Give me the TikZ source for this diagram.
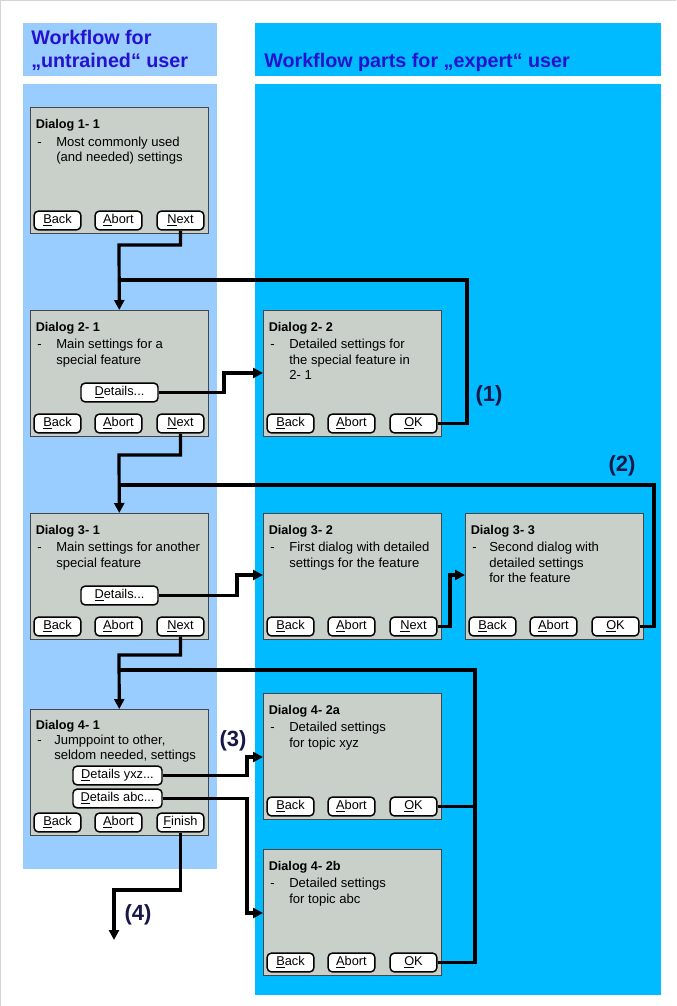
\documentclass[tikz,border=0pt]{standalone}
\usepackage{fontspec}
\setmainfont{Liberation Sans}
\usetikzlibrary{arrows.meta}

\definecolor{panelL}{RGB}{153,204,255}
\definecolor{panelR}{RGB}{0,187,255}
\definecolor{dlgfill}{RGB}{201,207,201}
\definecolor{dlgline}{RGB}{70,70,70}
\definecolor{headblue}{RGB}{38,18,206}
\definecolor{navy}{RGB}{24,24,72}
\definecolor{edgegrey}{RGB}{212,212,212}

\tikzset{
  dialog/.style={draw=dlgline, fill=dlgfill, line width=0.9pt, anchor=north west,
    minimum width=133.5pt, minimum height=94.5pt, inner sep=0pt},
  btn/.style={draw=black, fill=white, rounded corners=3pt, line width=1.1pt,
    minimum width=35pt, minimum height=14pt, inner sep=0pt,
    font=\fontsize{9.6}{11}\selectfont},
  dlgtitle/.style={anchor=base west, inner sep=0pt, font=\bfseries\fontsize{9.5}{11}\selectfont},
  dlgbody/.style={anchor=base west, inner sep=0pt, font=\fontsize{9.8}{11}\selectfont},
  headtext/.style={anchor=base west, inner sep=0pt, text=headblue,
    font=\bfseries\fontsize{14.8}{17}\selectfont},
  numlabel/.style={inner sep=0pt, text=navy, font=\bfseries\fontsize{16.5}{18}\selectfont},
  flow/.style={draw=black, line width=2.4pt},
  arr/.style={flow, -{Triangle[length=7.5pt,width=7.5pt]}},
}

\begin{document}
\begin{tikzpicture}[x=0.75pt,y=-0.75pt]
\useasboundingbox (0,0) rectangle (676,1006);

% page edge
\draw[edgegrey, line width=1pt] (0.7,1006) -- (0.7,0.7) -- (676,0.7);

% column panels
\fill[panelL] (23,23) rectangle (217,76);
\fill[panelR] (255,23) rectangle (661,76);
\fill[panelL] (23,84) rectangle (217,869);
\fill[panelR] (255,84) rectangle (661,995);

% column headings
\node[headtext] (hl1) at (31,45) {Workflow for};
\node[headtext] (hl2) at (31,67.5) {„untrained“ user};
\node[headtext] (hr1) at (264,67.5) {Workflow parts for „expert“ user};

% ---------- Dialog 1-1
\node[dialog] (d11) at (30,107) {};
\node[dlgtitle] (t11) at (35.5,128) {Dialog 1- 1};
\node[dlgbody] (s11) at (37,146) {-};
\node[dlgbody] (a11) at (56,146) {Most commonly used};
\node[dlgbody] (b11) at (56,161.5) {(and needed) settings};
\node[btn] (bk11) at (57.5,220.5) {\underline{B}ack};
\node[btn] (ab11) at (118.5,220.5) {\underline{A}bort};
\node[btn] (nx11) at (180.5,220.5) {\underline{N}ext};

% ---------- Dialog 2-1
\node[dialog] (d21) at (30,310) {};
\node[dlgtitle] (t21) at (35.5,331) {Dialog 2- 1};
\node[dlgbody] (s21) at (37,348.5) {-};
\node[dlgbody] (a21) at (56,348.5) {Main settings for a};
\node[dlgbody] (b21) at (56,364) {special feature};
\node[btn, minimum width=57.75pt] (det21) at (119.5,392.5) {\underline{D}etails...};
\node[btn] (bk21) at (57.5,423.5) {\underline{B}ack};
\node[btn] (ab21) at (118.5,423.5) {\underline{A}bort};
\node[btn] (nx21) at (180.5,423.5) {\underline{N}ext};

% ---------- Dialog 2-2
\node[dialog] (d22) at (263,310) {};
\node[dlgtitle] (t22) at (268.5,331) {Dialog 2- 2};
\node[dlgbody] (s22) at (270,348.5) {-};
\node[dlgbody] (a22) at (289,348.5) {Detailed settings for};
\node[dlgbody] (b22) at (289,364) {the special feature in};
\node[dlgbody] (c22) at (289,379.5) {2- 1};
\node[btn] (bk22) at (290.5,423.5) {\underline{B}ack};
\node[btn] (ab22) at (351.5,423.5) {\underline{A}bort};
\node[btn] (ok22) at (413.5,423.5) {\underline{O}K};

% ---------- Dialog 3-1
\node[dialog] (d31) at (30,513) {};
\node[dlgtitle] (t31) at (35.5,534) {Dialog 3- 1};
\node[dlgbody] (s31) at (37,551.5) {-};
\node[dlgbody] (a31) at (56,551.5) {Main settings for another};
\node[dlgbody] (b31) at (56,567) {special feature};
\node[btn, minimum width=57.75pt] (det31) at (119.5,595.5) {\underline{D}etails...};
\node[btn] (bk31) at (57.5,626.5) {\underline{B}ack};
\node[btn] (ab31) at (118.5,626.5) {\underline{A}bort};
\node[btn] (nx31) at (180.5,626.5) {\underline{N}ext};

% ---------- Dialog 3-2
\node[dialog] (d32) at (263,513) {};
\node[dlgtitle] (t32) at (268.5,534) {Dialog 3- 2};
\node[dlgbody] (s32) at (270,551.5) {-};
\node[dlgbody] (a32) at (289,551.5) {First dialog with detailed};
\node[dlgbody] (b32) at (289,567) {settings for the feature};
\node[btn] (bk32) at (290.5,626.5) {\underline{B}ack};
\node[btn] (ab32) at (351.5,626.5) {\underline{A}bort};
\node[btn] (nx32) at (413.5,626.5) {\underline{N}ext};

% ---------- Dialog 3-3
\node[dialog] (d33) at (465,513) {};
\node[dlgtitle] (t33) at (470.5,534) {Dialog 3- 3};
\node[dlgbody] (s33) at (472,551.5) {-};
\node[dlgbody] (a33) at (489,551.5) {Second dialog with};
\node[dlgbody] (b33) at (489,567) {detailed settings};
\node[dlgbody] (c33) at (489,582.5) {for the feature};
\node[btn] (bk33) at (492.5,626.5) {\underline{B}ack};
\node[btn] (ab33) at (553.5,626.5) {\underline{A}bort};
\node[btn] (ok33) at (615.5,626.5) {\underline{O}K};

% ---------- Dialog 4-1
\node[dialog] (d41) at (30,709) {};
\node[dlgtitle] (t41) at (35.5,729) {Dialog 4- 1};
\node[dlgbody] (s41) at (37,744.5) {-};
\node[dlgbody] (a41) at (54,744.5) {Jumppoint to other,};
\node[dlgbody] (b41) at (54,759.5) {seldom needed, settings};
\node[btn, minimum width=66.75pt] (yxz41) at (117.5,775.5) {\underline{D}etails yxz...};
\node[btn, minimum width=66.75pt] (abc41) at (117.5,798.5) {\underline{D}etails abc...};
\node[btn] (bk41) at (57.5,822.5) {\underline{B}ack};
\node[btn] (ab41) at (118.5,822.5) {\underline{A}bort};
\node[btn] (fn41) at (180.5,822.5) {\underline{F}inish};

% ---------- Dialog 4-2a
\node[dialog] (d42a) at (263,693) {};
\node[dlgtitle] (t42a) at (268.5,714) {Dialog 4- 2a};
\node[dlgbody] (s42a) at (270,731.5) {-};
\node[dlgbody] (a42a) at (289,731.5) {Detailed settings};
\node[dlgbody] (b42a) at (289,747) {for topic xyz};
\node[btn] (bk42a) at (290.5,806.5) {\underline{B}ack};
\node[btn] (ab42a) at (351.5,806.5) {\underline{A}bort};
\node[btn] (ok42a) at (413.5,806.5) {\underline{O}K};

% ---------- Dialog 4-2b
\node[dialog] (d42b) at (263,849) {};
\node[dlgtitle] (t42b) at (268.5,870) {Dialog 4- 2b};
\node[dlgbody] (s42b) at (270,887.5) {-};
\node[dlgbody] (a42b) at (289,887.5) {Detailed settings};
\node[dlgbody] (b42b) at (289,903) {for topic abc};
\node[btn] (bk42b) at (290.5,962.5) {\underline{B}ack};
\node[btn] (ab42b) at (351.5,962.5) {\underline{A}bort};
\node[btn] (ok42b) at (413.5,962.5) {\underline{O}K};

% ---------- bends and junctions of the connectors
\coordinate (j1) at (119,245);
\coordinate (j2) at (119,455);
\coordinate (j3) at (119,655);
\coordinate (j4) at (114,890);
\coordinate (e4) at (114,940);
\coordinate (l1) at (467,280);
\coordinate (m1) at (119,280);
\coordinate (l2) at (654,485);
\coordinate (m2) at (119,485);
\coordinate (l3) at (475,670);
\coordinate (m3) at (119,670);
\coordinate (b1) at (224,373);
\coordinate (b2) at (237,575);
\coordinate (b3) at (450,575);
\coordinate (b4) at (247,757);
\coordinate (b5) at (247,913);

% main path
\draw[arr] (nx11.south) |- (j1) -- (d21);
\draw[arr] (nx21.south) |- (j2) -- (d31);
\draw[arr] (nx31.south) |- (j3) -- (d41);
\draw[arr] (fn41.south) |- (j4) -- (e4);

% detail branches
\draw[arr] (det21.east) -| (b1) -- (b1 -| d22.west);
\draw[arr] (det31.east) -| (b2) -- (b2 -| d32.west);
\draw[arr] (nx32.east) -| (b3) -- (b3 -| d33.west);
\draw[arr] (yxz41.east) -| (b4) -- (b4 -| d42a.west);
\draw[arr] (abc41.east) -| (b5) -- (b5 -| d42b.west);

% returns to the main path
\draw[flow] (ok22.east) -| (l1) -- (m1);
\draw[flow] (ok33.east) -| (l2) -- (m2);
\draw[flow] (ok42b.east) -| (l3) -- (m3);
\draw[flow] (ok42a.east) -- (ok42a.east -| l3);

% path labels
\node[numlabel] (n1) at (489,396) {(1)};
\node[numlabel] (n2) at (622,466) {(2)};
\node[numlabel] (n3) at (233,741) {(3)};
\node[numlabel] (n4) at (138,915) {(4)};
\end{tikzpicture}
\end{document}
